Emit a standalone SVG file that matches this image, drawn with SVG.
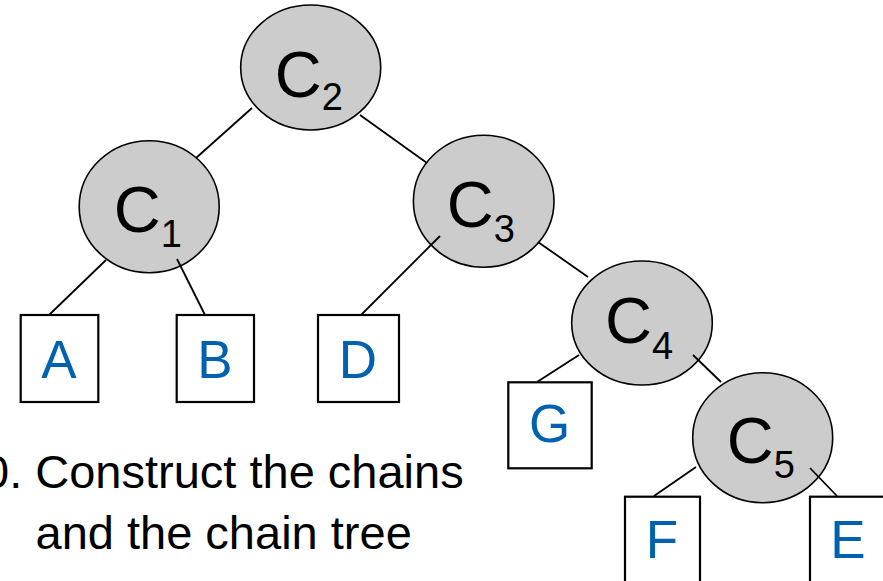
<svg xmlns="http://www.w3.org/2000/svg" width="883" height="581" viewBox="0 0 883 581">
<style>
.chain{fill:#cccccc;stroke:#000;stroke-width:1.6}
.leaf{fill:#fff;stroke:#000;stroke-width:2.2}
.edge{stroke:#000;stroke-width:1.8;fill:none}
.cl{font-family:"Liberation Sans",Arial,sans-serif;font-size:65px;fill:#000}
.sub{font-size:38px}
.ll{font-family:"Liberation Sans",Arial,sans-serif;font-size:53px;fill:#0061b0;text-anchor:middle}
.body{font-family:"Liberation Sans",Arial,sans-serif;font-size:47px;fill:#000}
</style>
<rect width="883" height="581" fill="#fff"/>
<g id="C2"><ellipse class="chain" cx="310.7" cy="67.5" rx="70" ry="62.5"/><text class="cl" x="274.8" y="97">C<tspan class="sub" dy="13">2</tspan></text></g>
<g id="C1"><ellipse class="chain" cx="149.2" cy="206.7" rx="70" ry="66"/><text class="cl" x="113.8" y="232">C<tspan class="sub" dy="14.7">1</tspan></text></g>
<g id="C3"><ellipse class="chain" cx="483.7" cy="201.2" rx="70.3" ry="66"/><text class="cl" x="446.8" y="226.7">C<tspan class="sub" dy="15">3</tspan></text></g>
<g id="C4"><ellipse class="chain" cx="642" cy="323" rx="70.3" ry="62"/><text class="cl" x="605.1" y="343.3">C<tspan class="sub" dy="16">4</tspan></text></g>
<g id="C5"><ellipse class="chain" cx="762.7" cy="437.7" rx="70" ry="65"/><text class="cl" x="726.8" y="463">C<tspan class="sub" dy="15.3">5</tspan></text></g>
<g id="A"><rect class="leaf" x="20.7" y="315" width="77.6" height="87"/><text class="ll" x="59" y="378">A</text></g>
<g id="B"><rect class="leaf" x="176.7" y="315" width="77.3" height="87"/><text class="ll" x="215" y="378">B</text></g>
<g id="D"><rect class="leaf" x="318" y="315" width="81" height="87"/><text class="ll" x="358" y="378">D</text></g>
<g id="G"><rect class="leaf" x="508.3" y="382.3" width="83.4" height="86"/><text class="ll" x="549.5" y="441.7">G</text></g>
<g id="F"><rect class="leaf" x="625" y="496.7" width="75" height="90"/><text class="ll" x="662" y="558.3">F</text></g>
<g id="E"><rect class="leaf" x="810" y="496.7" width="77" height="90"/><text class="ll" x="848" y="558.3">E</text></g>
<g id="connectors">
<line class="edge" x1="252" y1="108" x2="196" y2="158"/>
<line class="edge" x1="360" y1="115" x2="427" y2="163"/>
<line class="edge" x1="106" y1="260" x2="49" y2="315"/>
<line class="edge" x1="177" y1="259" x2="205" y2="315"/>
<line class="edge" x1="440" y1="236" x2="361" y2="315"/>
<line class="edge" x1="538" y1="242" x2="588" y2="277"/>
<line class="edge" x1="579" y1="355" x2="537" y2="382"/>
<line class="edge" x1="693" y1="355" x2="721" y2="382"/>
<line class="edge" x1="696" y1="467" x2="654" y2="496"/>
<line class="edge" x1="810" y1="468" x2="837" y2="496"/>
</g>
<text class="body" x="-17" y="487.5">0. Construct the chains</text>
<text class="body" x="35.5" y="549">and the chain tree</text>
</svg>
